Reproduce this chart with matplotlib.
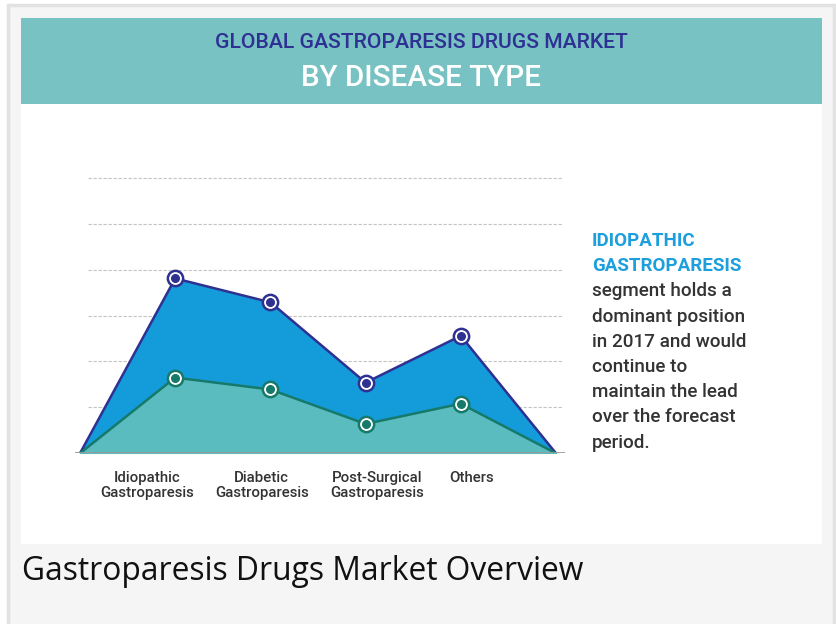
import matplotlib.pyplot as plt
from matplotlib.patches import Rectangle

# dados (unidades = linhas de grade)
categorias = ['Idiopathic\nGastroparesis', 'Diabetic\nGastroparesis',
              'Post-Surgical\nGastroparesis', 'Others']
total = [3.81, 3.29, 1.54, 2.56]
segmento = [1.65, 1.39, 0.64, 1.08]
grade = [1, 2, 3, 4, 5, 6]

titulo1 = 'GLOBAL GASTROPARESIS DRUGS MARKET'
titulo2 = 'BY DISEASE TYPE'
destaque = ['IDIOPATHIC', 'GASTROPARESIS']
texto = ['segment holds a', 'dominant position', 'in 2017 and would',
         'continue to', 'maintain the lead', 'over the forecast', 'period.']
legenda = 'Gastroparesis Drugs Market Overview'

W, H = 836, 624
fig = plt.figure(figsize=(W / 100, H / 100), dpi=100)
fig.patch.set_facecolor('white')

def px(x, y):
    return x / W, 1 - y / H

def caixa(x0, y0, x1, y1, cor, ec='none', lw=0):
    fig.patches.append(Rectangle(px(x0, y1), (x1 - x0) / W, (y1 - y0) / H,
                                 transform=fig.transFigure, facecolor=cor,
                                 edgecolor=ec, linewidth=lw, zorder=-5))

caixa(8, 5, 834, 640, '#f5f5f5', ec='#e2e2e2', lw=2.5)
caixa(21, 18, 822, 544, 'white')
caixa(21, 18, 822, 104, '#79c2c4')

fig.text(*px(421, 43), titulo1, ha='center', va='center', color='#2e3192',
         fontsize=15.2, family='Roboto', fontweight='medium')
fig.text(*px(421, 78), titulo2, ha='center', va='center', color='white',
         fontsize=21.3, family='Roboto', fontweight='medium')

y = 241
for linha in destaque:
    fig.text(*px(592, y), linha, ha='left', va='center', color='#1c9fdc',
             fontsize=13.5, family='Roboto', fontweight='bold')
    y += 25.2
for linha in texto:
    fig.text(*px(592, y), linha, ha='left', va='center', color='#333333',
             fontsize=13.6, family='Roboto', fontweight='medium')
    y += 25.2

fig.text(*px(22, 571), legenda, ha='left', va='center', color='#111111',
         fontsize=22.9, family='Open Sans')

# área do gráfico
ax = fig.add_axes([75 / W, 1 - 453.3 / H, (565 - 75) / W, (453.3 - 170) / H])
ax.set_zorder(2)
ax.set_facecolor('none')
xs = list(range(len(categorias) + 2))
topo = [0] + total + [0]
base = [0] + segmento + [0]
ax.set_xlim(-0.0525, 5.095)
ax.set_ylim(0, (453.3 - 170) / 45.9)

for g in grade:
    ax.hlines(g, 0.08, 5.07, colors='#c4c4c4', linestyles=(0, (3, 1.5)), linewidth=0.8, zorder=1)

ax.fill_between(xs, topo, color='#149bd9', zorder=2)
ax.plot(xs, topo, color='#2e3192', linewidth=1.8, zorder=3)
ax.fill_between(xs, base, color='#5bbcbf', zorder=4)
ax.plot(xs, base, color='#167a6a', linewidth=1.8, zorder=5)

ax.plot(xs[1:-1], total, 'o', ms=11, mfc='white', mec='#2e3192', mew=1.8, zorder=6)
ax.plot(xs[1:-1], total, 'o', ms=5.5, color='#2e3192', zorder=7)
ax.plot(xs[1:-1], segmento, 'o', ms=11, mfc='white', mec='#167a6a', mew=1.8, zorder=6)
ax.plot(xs[1:-1], segmento, 'o', ms=5.5, color='#167a6a', zorder=7)

ax.axhline(0, color='#9a9a9a', linewidth=2, zorder=8)
for s in ax.spines.values():
    s.set_visible(False)
ax.set_yticks([])
ax.set_xticks([0.70, 1.91, 3.12, 4.11])
ax.set_xticklabels(categorias, fontsize=10.8, family='Roboto', fontweight='medium',
                   color='#333333', linespacing=1.05)
ax.tick_params(axis='x', length=0, pad=13)

fig.savefig('out.png', dpi=100)
